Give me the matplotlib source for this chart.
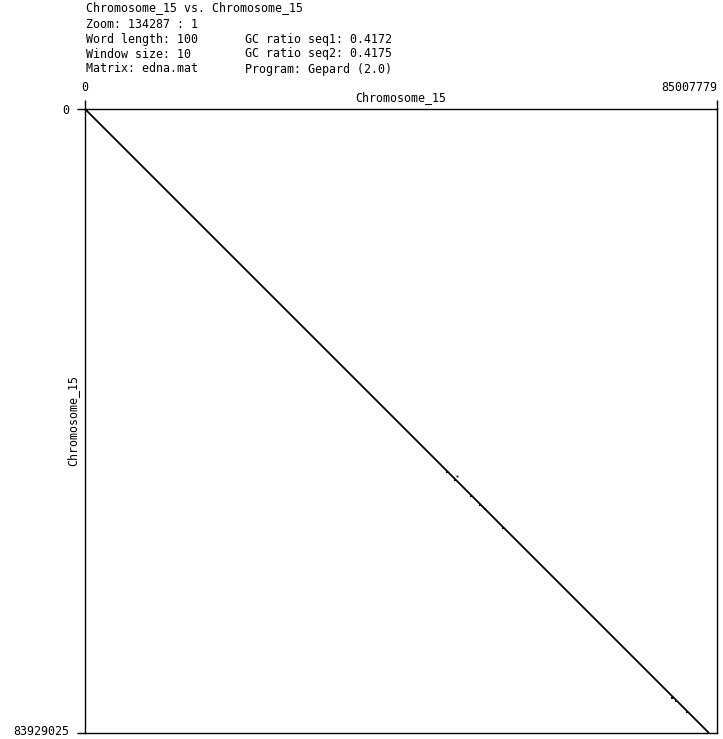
import matplotlib
matplotlib.use("Agg")
import matplotlib.pyplot as plt
import matplotlib.transforms as mtransforms

# sequence info
seq1_name = "Chromosome_15"
seq2_name = "Chromosome_15"
seq1_len = 85007779
seq2_len = 83929025

header_left = ["Chromosome_15 vs. Chromosome_15", "Zoom: 134287 : 1",
               "Word length: 100", "Window size: 10", "Matrix: edna.mat"]
header_right = ["GC ratio seq1: 0.4172", "GC ratio seq2: 0.4175", "Program: Gepard (2.0)"]

# main self-match diagonal (seq1 start/end, seq2 start/end)
diag_x = [0, 83929025]
diag_y = [0, 83929025]

# denser hits along the diagonal (repeats)
hit_x = [48700000, 49700000, 51900000, 53100000, 53800000, 56200000,
         79000000, 79500000, 81000000, 300000]
hit_y = [48800000, 49900000, 52100000, 53200000, 53850000, 56300000,
         79200000, 79650000, 81100000, 200000]

# stray off-diagonal hit
stray_x = [50000000]
stray_y = [49300000]

W, H = 723, 739
mono = "DejaVu Sans Mono"
fs = 8.4

fig = plt.figure(figsize=(W / 100, H / 100), dpi=100)
fig.patch.set_facecolor("white")


def fx(px):
    return px / W


def fy(py):
    return 1 - py / H


left, right, top, bottom = 85, 717, 109, 733
ax = fig.add_axes([fx(left), fy(bottom), (right - left) / W, (bottom - top) / H])
ax.plot(diag_x, diag_y, color="black", lw=1.3, solid_capstyle="butt")
ax.plot(hit_x, hit_y, "s", color="black", ms=1.8, mew=0)
ax.plot(stray_x, stray_y, "s", color="black", ms=1.3, mew=0)
ax.set_xlim(0, seq1_len)
ax.set_ylim(seq2_len, 0)

for sp in ax.spines.values():
    sp.set_color("black")
    sp.set_linewidth(1.0)

ax.xaxis.tick_top()
ax.set_xticks([0, seq1_len])
ax.set_xticklabels(["0", str(seq1_len)], fontfamily=mono, fontsize=fs)
ax.set_yticks([0, seq2_len])
ax.set_yticklabels(["0", str(seq2_len)], fontfamily=mono, fontsize=fs)
ax.tick_params(axis="x", direction="out", length=6.5, width=1, pad=4)
ax.tick_params(axis="y", direction="out", length=6, width=1, pad=5)
ax.get_xticklabels()[1].set_ha("right")

# keep the bottom y label inside the figure
lab = ax.get_yticklabels()[1]
lab.set_transform(lab.get_transform() + mtransforms.ScaledTranslation(0, 3 / 100, fig.dpi_scale_trans))

# axis names
fig.text(fx((left + right) / 2), fy(98), seq1_name, fontfamily=mono, fontsize=fs,
         ha="center", va="center")
fig.text(fx(73), fy((top + bottom) / 2), seq2_name, fontfamily=mono, fontsize=fs,
         ha="center", va="center", rotation=90)

# header block
line_y = [8, 24, 39, 54, 69]
for i, s in enumerate(header_left):
    fig.text(fx(86), fy(line_y[i]), s, fontfamily=mono, fontsize=fs, ha="left", va="center")
for i, s in enumerate(header_right):
    fig.text(fx(245), fy(line_y[i + 2]), s, fontfamily=mono, fontsize=fs, ha="left", va="center")

fig.savefig("out.png", dpi=100, facecolor="white")
